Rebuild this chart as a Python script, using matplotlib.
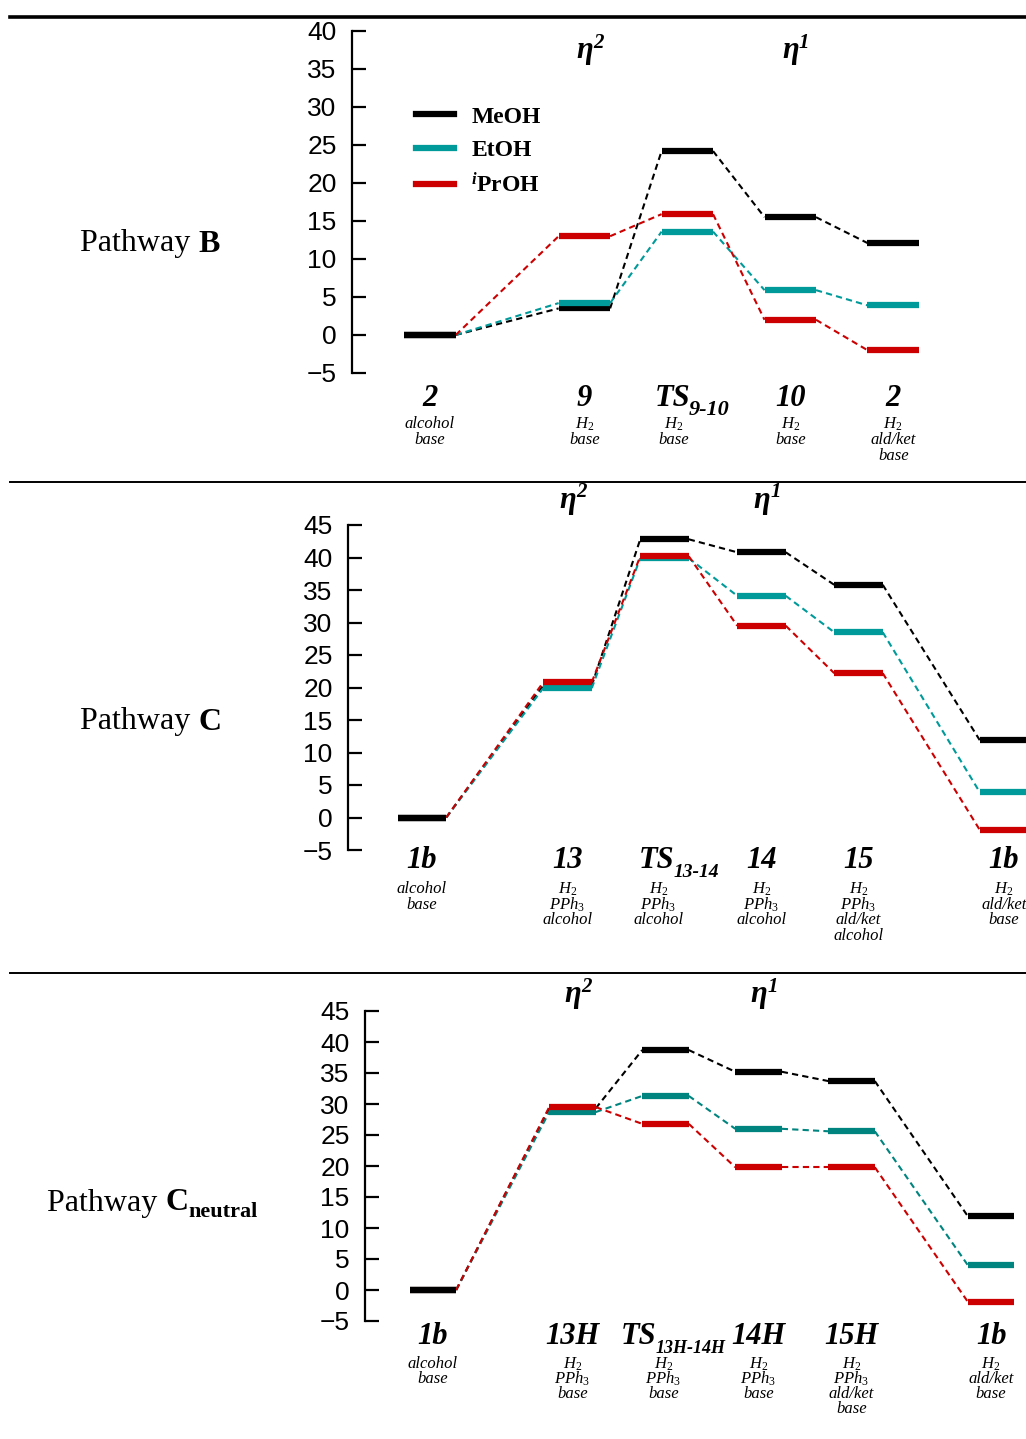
import matplotlib
matplotlib.use("Agg")
import matplotlib.pyplot as plt
from matplotlib.lines import Line2D

plt.rcParams['font.family'] = 'Liberation Serif'
plt.rcParams['mathtext.fontset'] = 'custom'
plt.rcParams['mathtext.rm'] = 'Liberation Serif'
plt.rcParams['mathtext.it'] = 'Liberation Serif:italic:bold'
plt.rcParams['mathtext.bf'] = 'Liberation Serif:bold'

W, H = 1026, 1439

series_names = ['MeOH', 'EtOH', '$^{i}$PrOH']

# Pathway B
b_x = [0, 1.5, 2.5, 3.5, 4.5]
b_meoh = [0, 3.5, 24.2, 15.5, 12.1]
b_etoh = [0, 4.2, 13.6, 5.9, 3.9]
b_iproh = [0, 13.0, 15.9, 2.0, -2.0]
b_names = ['2', '9', 'TS', '10', '2']
b_name_subs = ['', '', '9-10', '', '']
b_subs = [['alcohol', 'base'], ['H$_2$', 'base'], ['H$_2$', 'base'],
          ['H$_2$', 'base'], ['H$_2$', 'ald/ket', 'base']]
b_yticks = [-5, 0, 5, 10, 15, 20, 25, 30, 35, 40]

# Pathway C
c_x = [0, 1.5, 2.5, 3.5, 4.5, 6.0]
c_meoh = [0, 20.3, 42.8, 40.8, 35.8, 11.9]
c_etoh = [0, 19.9, 39.9, 34.1, 28.5, 3.9]
c_iproh = [0, 20.8, 40.2, 29.5, 22.2, -1.9]
c_names = ['1b', '13', 'TS', '14', '15', '1b']
c_name_subs = ['', '', '13-14', '', '', '']
c_subs = [['alcohol', 'base'], ['H$_2$', 'PPh$_3$', 'alcohol'],
          ['H$_2$', 'PPh$_3$', 'alcohol'], ['H$_2$', 'PPh$_3$', 'alcohol'],
          ['H$_2$', 'PPh$_3$', 'ald/ket', 'alcohol'], ['H$_2$', 'ald/ket', 'base']]
c_yticks = [-5, 0, 5, 10, 15, 20, 25, 30, 35, 40, 45]

# Pathway C neutral
cn_x = [0, 1.5, 2.5, 3.5, 4.5, 6.0]
cn_meoh = [0, 29.3, 38.7, 35.2, 33.7, 11.9]
cn_etoh = [0, 28.7, 31.3, 26.0, 25.6, 4.0]
cn_iproh = [0, 29.5, 26.8, 19.8, 19.8, -1.9]
cn_names = ['1b', '13H', 'TS', '14H', '15H', '1b']
cn_name_subs = ['', '', '13H-14H', '', '', '']
cn_subs = [['alcohol', 'base'], ['H$_2$', 'PPh$_3$', 'base'],
           ['H$_2$', 'PPh$_3$', 'base'], ['H$_2$', 'PPh$_3$', 'base'],
           ['H$_2$', 'PPh$_3$', 'ald/ket', 'base'], ['H$_2$', 'ald/ket', 'base']]
cn_yticks = c_yticks


def px_rect(left, top, right, bottom):
    return [left / W, 1 - bottom / H, (right - left) / W, (bottom - top) / H]


fig = plt.figure(figsize=(W / 100, H / 100), dpi=100)

# separators
fig.add_artist(Line2D([10 / W, 1], [1 - 17 / H] * 2, color='black', lw=2.6))
fig.add_artist(Line2D([10 / W, 1], [1 - 482 / H] * 2, color='black', lw=1.4))
fig.add_artist(Line2D([10 / W, 1], [1 - 973 / H] * 2, color='black', lw=1.4))


def panel(rect, xlim, ylim, yticks, xs, series, colors, names, name_subs, subs,
          name_off, sub_off, sub_step, ts_shift, ts_sub_shift, ts_fs, eta_y):
    ax = fig.add_axes(rect)
    ax.set_xlim(xlim)
    ax.set_ylim(ylim)
    for s in ['top', 'right', 'bottom']:
        ax.spines[s].set_visible(False)
    ax.spines['left'].set_linewidth(1.6)
    ax.set_xticks([])
    ax.set_yticks(yticks)
    ax.tick_params(axis='y', direction='in', length=10, width=1.6, pad=11,
                   labelsize=19)
    for t in ax.get_yticklabels():
        t.set_fontfamily('Liberation Sans')
    hw = 0.25
    for vals, col in zip(series, colors):
        for i in range(len(xs) - 1):
            ax.plot([xs[i] + hw, xs[i + 1] - hw], [vals[i], vals[i + 1]],
                    color=col, lw=1.5, ls=(0, (3, 2)), clip_on=False, zorder=2)
    for k, (vals, col) in enumerate(zip(series, colors)):
        for i, (x, v) in enumerate(zip(xs, vals)):
            # the common reference level shows the first series on top
            z = 3 - 0.1 * k if i == 0 else 3 + 0.1 * k
            ax.plot([x - hw, x + hw], [v, v], color=col, lw=4.5,
                    solid_capstyle='butt', clip_on=False, zorder=z)
    tr = ax.get_xaxis_transform()
    for x, nm, ns, sb in zip(xs, names, name_subs, subs):
        if ns:
            t = ax.annotate(nm, xy=(x, 0), xycoords=tr, textcoords='offset pixels',
                            xytext=(ts_shift, -name_off), ha='center', va='center',
                            fontsize=22, fontweight='bold', fontstyle='italic',
                            annotation_clip=False)
            ax.annotate(ns, xy=(0.97, 0.12), xycoords=t, ha='left', va='center',
                        fontsize=ts_fs, fontweight='bold', fontstyle='italic')
        else:
            ax.annotate(nm, xy=(x, 0), xycoords=tr, textcoords='offset pixels',
                        xytext=(0, -name_off), ha='center', va='center',
                        fontsize=22, fontweight='bold', fontstyle='italic',
                        annotation_clip=False)
        for j, line in enumerate(sb):
            ax.annotate(line, xy=(x, 0), xycoords=tr, textcoords='offset pixels',
                        xytext=(ts_sub_shift if ns else 0, -sub_off - j * sub_step),
                        ha='center', va='center', fontsize=12, fontstyle='italic',
                        annotation_clip=False)
    for k, sup in [(1, '2'), (3, '1')]:
        e = ax.annotate('η', xy=(xs[k], eta_y), ha='center', va='center',
                        fontsize=22, fontweight='bold', fontstyle='italic',
                        annotation_clip=False)
        ax.annotate(sup, xy=(1.02, 0.78), xycoords=e, ha='left', va='center',
                    fontsize=15, fontweight='bold', fontstyle='italic')
    return ax


teal = '#009a9a'
ax_b = panel(px_rect(352, 31, 920, 373), (-0.757, 4.76), (-5, 40), b_yticks, b_x,
             [b_meoh, b_etoh, b_iproh], ['black', teal, '#cc0000'],
             b_names, b_name_subs, b_subs, 26, 51, 16, -15, -14, 16, 37.4)
ax_c = panel(px_rect(348, 525, 1026, 850), (-0.763, 6.227), (-5, 45), c_yticks, c_x,
             [c_meoh, c_etoh, c_iproh], ['black', teal, '#cc0000'],
             c_names, c_name_subs, c_subs, 11, 39, 15.7, -8, -6, 14, 48.8)
ax_cn = panel(px_rect(365, 1011, 1019, 1321), (-0.73, 6.3), (-5, 45), cn_yticks, cn_x,
              [cn_meoh, cn_etoh, cn_iproh], ['black', '#00847f', '#cc0000'],
              cn_names, cn_name_subs, cn_subs, 16, 43, 15, -27, -2, 13, 47.6)

handles = [Line2D([], [], color=c, lw=4.5) for c in ['black', teal, '#cc0000']]
leg = ax_b.legend(handles, series_names, loc='upper left', frameon=False,
                  bbox_to_anchor=(416 / W, 1 - 106 / H), bbox_transform=fig.transFigure,
                  borderpad=0, borderaxespad=0, handlelength=1.6, handletextpad=0.75,
                  labelspacing=0.5, prop={'family': 'Liberation Serif', 'weight': 'bold',
                                          'size': 17})

# pathway titles
for ytop, letter, sub in [(244, 'B', ''), (722, 'C', ''), (1203, 'C', 'neutral')]:
    p = fig.text(80 / W if not sub else 47 / W, 1 - ytop / H, 'Pathway ',
                 fontsize=23, va='center', ha='left')
    l = plt.annotate(letter, xy=(1, 0.5), xycoords=p, ha='left', va='center',
                     fontsize=23, fontweight='bold', annotation_clip=False)
    if sub:
        plt.annotate(sub, xy=(1, 0.2), xycoords=l, ha='left', va='center',
                     fontsize=16, fontweight='bold', annotation_clip=False)

fig.savefig('out.png', dpi=100)
